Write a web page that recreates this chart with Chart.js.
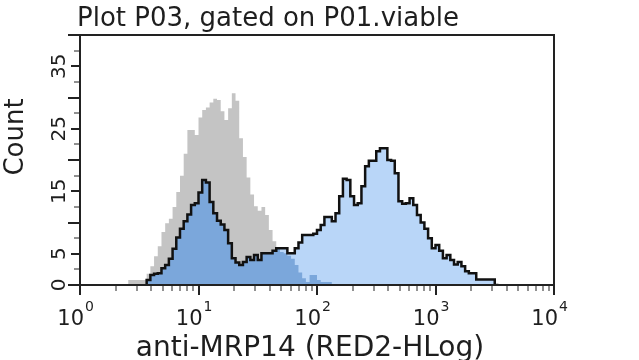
<!DOCTYPE html>
<html>
<head>
<meta charset="utf-8">
<script src="https://cdn.jsdelivr.net/npm/chart.js@4/dist/chart.umd.min.js"></script>
<style>
    body { margin: 0; background: #fff; }
    #chartContainer { width: 639px; height: 360px; }
</style>
</head>
<body>
<div id="chartContainer"><canvas id="myChart" width="639" height="360"></canvas></div>
<script>
// histogram channels: 32 channels per decade, channel 0 = 10^0, channel 128 = 10^4
var grayFirstChannel = 13;
var grayCounts = [
    0, 0.8, 0.8, 0.8, 0.8, 0.8, 1.8, 3.0, 4.6, 6.2,
    8.5, 9.9, 10.6, 12.5, 14.9, 17.5, 21.0, 24.8, 24.8, 24.0,
    26.8, 28.0, 28.4, 29.2, 29.8, 29.6, 27.8, 26.4, 28.3, 30.7,
    29.5, 23.5, 20.5, 17.2, 14.5, 12.6, 11.9, 12.5, 11.2, 8.8,
    7.0, 5.8, 5.3, 5.1, 4.7, 4.2, 3.2, 2.0, 1.1, 0.5,
    1.6, 1.6, 0.8, 0.5, 0.5, 0.5, 0
];

var blueFirstChannel = 18;
var blueCounts = [
    0, 0.8, 1.6, 1.8, 1.9, 2.7, 3.2, 4.2, 5.8, 7.6,
    9.0, 10.2, 11.3, 12.8, 13.1, 14.8, 16.8, 16.4, 13.3, 11.5,
    10.3, 9.7, 8.8, 6.7, 4.3, 3.6, 3.2, 3.7, 4.5, 4.0,
    4.8, 4.0, 5.1, 5.1, 5.1, 5.5, 5.9, 5.9, 5.9, 5.1,
    5.1, 5.9, 6.8, 8.0, 8.0, 8.0, 8.2, 8.8, 9.6, 10.9,
    10.9, 10.2, 11.5, 14.2, 17.0, 16.8, 14.2, 12.8, 13.1, 15.8,
    19.0, 19.9, 19.9, 21.4, 21.9, 21.9, 20.0, 19.9, 17.9, 13.4,
    13.0, 13.1, 13.9, 12.8, 11.2, 10.0, 9.0, 7.5, 5.9, 6.4,
    5.5, 4.3, 4.8, 4.0, 3.3, 3.7, 3.0, 2.2, 1.9, 1.9,
    0.9, 0.9, 0.9, 0.9, 0.9, 0
];

var channelsPerDecade = 32;
var xDecadeExponents = ["0", "1", "2", "3", "4"];
var yTickLabels = [0, 5, 15, 25, 35];
var yMax = 40;

var titleText = "Plot P03, gated on P01.viable";
var xTitle = "anti-MRP14 (RED2-HLog)";
var yTitle = "Count";

function toPoints(first, counts) {
    return counts.map(function (c, i) {
        return { x: first + i, y: c };
    });
}

// the filler plugin paints fills before our own per-dataset hook runs,
// so the composite mode for the next dataset is set after the previous one
var blendPlugin = {
    id: "blend",
    beforeDatasetsDraw: function (chart) {
        chart.ctx.globalCompositeOperation = "source-over";
    },
    afterDatasetDraw: function (chart, args) {
        var ds = chart.data.datasets[args.index];
        chart.ctx.globalCompositeOperation = ds.nextBlend || "source-over";
    },
    afterDatasetsDraw: function (chart) {
        chart.ctx.globalCompositeOperation = "source-over";
    },
};

var axesPlugin = {
    id: "axesDraw",
    afterDraw: function (chart) {
        var ctx = chart.ctx;
        var a = chart.chartArea;
        var x = chart.scales.x;
        var y = chart.scales.y;
        ctx.save();
        ctx.fillStyle = "#1e1e1e";
        ctx.strokeStyle = "#222";

        // x ticks, log decades with minor ticks
        for (var d = 0; d < xDecadeExponents.length; d++) {
            for (var k = 1; k <= 9; k++) {
                if (d === xDecadeExponents.length - 1 && k > 1) break;
                var px = Math.round(x.getPixelForValue(channelsPerDecade * (d + Math.log10(k))));
                ctx.beginPath();
                ctx.lineWidth = k === 1 ? 2 : 1;
                ctx.moveTo(px, a.bottom);
                ctx.lineTo(px, a.bottom + (k === 1 ? 10 : 6));
                ctx.stroke();
            }
            var tx = x.getPixelForValue(channelsPerDecade * d);
            ctx.font = "21px 'DejaVu Sans'";
            ctx.textAlign = "right";
            ctx.textBaseline = "alphabetic";
            ctx.fillText("10", tx + 4, a.bottom + 40);
            ctx.font = "14px 'DejaVu Sans'";
            ctx.textAlign = "left";
            ctx.fillText(xDecadeExponents[d], tx + 5, a.bottom + 26);
        }

        // y ticks every 2.5
        for (var v = 0; v <= yMax; v += 2.5) {
            var py = Math.round(y.getPixelForValue(v));
            var len = v % 10 === 0 ? 12 : (v % 5 === 0 ? 9 : 6);
            ctx.beginPath();
            ctx.lineWidth = v % 5 === 0 ? 2 : 1;
            ctx.moveTo(a.left, py);
            ctx.lineTo(a.left - len, py);
            ctx.stroke();
        }
        ctx.font = "20px 'DejaVu Sans'";
        ctx.textAlign = "center";
        ctx.textBaseline = "middle";
        yTickLabels.forEach(function (lab) {
            ctx.save();
            ctx.translate(a.left - 20, y.getPixelForValue(lab));
            ctx.rotate(-Math.PI / 2);
            ctx.fillText(String(lab), 0, 0);
            ctx.restore();
        });

        // frame
        ctx.lineWidth = 2;
        ctx.strokeRect(a.left, a.top, a.right - a.left, a.bottom - a.top);

        // titles
        ctx.font = "26px 'DejaVu Sans'";
        ctx.textAlign = "left";
        ctx.textBaseline = "alphabetic";
        ctx.fillText(titleText, 77, 26);
        ctx.save();
        ctx.translate(16, 137);
        ctx.rotate(-Math.PI / 2);
        ctx.textAlign = "center";
        ctx.textBaseline = "middle";
        ctx.fillText(yTitle, 0, 0);
        ctx.restore();
        ctx.font = "28px 'DejaVu Sans'";
        ctx.textAlign = "center";
        ctx.fillText(xTitle, 310, 356);
        ctx.restore();
    },
};

document.addEventListener("DOMContentLoaded", function () {
    var ctx = document.getElementById("myChart").getContext("2d");
    var grayPoints = toPoints(grayFirstChannel, grayCounts);
    var bluePoints = toPoints(blueFirstChannel, blueCounts);
    // drawn from highest order to lowest
    // eslint-disable-next-line no-undef,no-new
    new Chart(ctx, {
        type: "line",
        data: {
            datasets: [
                {
                    // outline of stained sample, on top
                    data: bluePoints,
                    order: 1,
                    fill: false,
                    borderColor: "#111",
                    borderWidth: 2.5,
                },
                {
                    // control, painted behind what is already there
                    data: grayPoints,
                    order: 2,
                    nextBlend: "source-over",
                    fill: "origin",
                    backgroundColor: "#c4c4c4",
                    borderWidth: 0,
                },
                {
                    // overlap of control and sample
                    data: grayPoints,
                    order: 3,
                    nextBlend: "destination-over",
                    fill: "origin",
                    backgroundColor: "#7ba7db",
                    borderWidth: 0,
                },
                {
                    data: bluePoints,
                    order: 4,
                    nextBlend: "source-atop",
                    fill: "origin",
                    backgroundColor: "#b9d6f8",
                    borderWidth: 0,
                },
            ],
        },
        options: {
            responsive: false,
            animation: false,
            layout: {
                padding: { left: 80, right: 85, top: 35, bottom: 75 },
            },
            elements: {
                line: { stepped: "after", tension: 0 },
                point: { radius: 0, hoverRadius: 0 },
            },
            scales: {
                x: { type: "linear", min: 0, max: channelsPerDecade * 4, display: false },
                y: { type: "linear", min: 0, max: yMax, display: false },
            },
            plugins: {
                legend: { display: false },
                tooltip: { enabled: false },
            },
        },
        plugins: [blendPlugin, axesPlugin],
    });
});
</script>
</body>
</html>
